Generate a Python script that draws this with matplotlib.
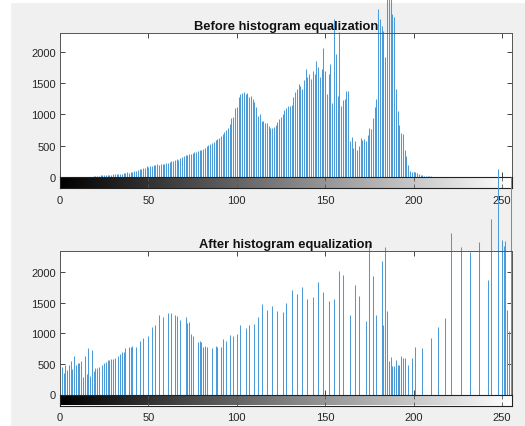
import numpy as np
import matplotlib.pyplot as plt
from matplotlib.patches import Rectangle

plt.rcParams['font.family'] = ['Liberation Sans', 'DejaVu Sans']

# histogram of the original image, one count per grey level 0..255
before_counts = [
    0, 0, 0, 0, 0, 0, 0, 0, 0, 0, 0, 0, 0, 0, 0, 0,
    0, 0, 5, 8, 20, 22, 18, 25, 28, 25, 32, 30, 38, 35, 42, 40,
    48, 45, 55, 52, 62, 60, 72, 68, 85, 80, 95, 92, 110, 120, 130, 150,
    145, 170, 165, 180, 175, 190, 185, 200, 195, 205, 210, 200, 225, 220, 240, 250,
    260, 270, 280, 275, 300, 320, 340, 350, 345, 365, 375, 385, 395, 405, 415, 425,
    435, 455, 470, 490, 505, 525, 545, 565, 585, 610, 630, 660, 690, 720, 750, 780,
    850, 935, 965, 1100, 1125, 1280, 1330, 1340, 1350, 1330, 1340, 1285, 1300, 1250, 1200, 1125,
    980, 1000, 890, 900, 870, 860, 810, 790, 780, 800, 825, 880, 925, 965, 1000, 1070,
    1100, 1140, 1130, 1150, 1280, 1350, 1410, 1490, 1460, 1410, 1550, 1730, 1600, 1650, 1560, 1700,
    1640, 1860, 1750, 1600, 1720, 2060, 1700, 1330, 1650, 1810, 1175, 2520, 1970, 1300, 2310, 1140,
    1225, 1250, 1370, 1380, 570, 635, 460, 570, 430, 490, 620, 590, 600, 570, 670, 780,
    760, 935, 1125, 1250, 2680, 2520, 2410, 2330, 1920, 2900, 3000, 2950, 2600, 2550, 1410, 1050,
    825, 700, 690, 430, 330, 190, 95, 80, 80, 75, 60, 48, 30, 25, 20, 15,
    12, 10, 8, 5, 0, 0, 0, 0, 0, 0, 0, 0, 0, 0, 0, 0,
    0, 0, 0, 0, 0, 0, 0, 0, 0, 0, 0, 0, 0, 0, 0, 0,
    0, 0, 0, 0, 0, 0, 0, 0, 0, 0, 0, 0, 0, 0, 0, 0,
]

# histogram after equalization: only the occupied grey levels
after_levels = [
    1, 2, 3, 4, 5, 6, 7, 8, 9, 10, 11, 12, 13, 14, 15, 16, 17, 18, 19, 20,
    21, 22, 24, 25, 26, 27, 28, 29, 30, 31, 33, 34, 35, 36, 37, 39, 40, 41, 43, 45,
    47, 50, 52, 54, 56, 58, 61, 63, 65, 66, 68, 71, 72, 73, 74, 75, 78, 79, 80, 81,
    82, 83, 86, 88, 89, 91, 92, 94, 96, 98, 100, 102, 105, 107, 110, 112, 114, 117, 120, 123,
    126, 128, 131, 134, 137, 140, 143, 146, 149, 152, 155, 158, 160, 164, 167, 169, 173, 175, 177, 179,
    182, 183, 184, 185, 186, 187, 188, 189, 190, 191, 192, 193, 194, 195, 197, 199, 201, 205, 210, 214,
    218, 221, 227, 232, 237, 242, 244, 248, 250, 251, 252, 253, 254, 255,
]
after_counts = [
    450, 355, 480, 400, 480, 550, 420, 630, 480, 515, 515, 550, 290, 630, 340, 760, 310, 725, 390, 435,
    435, 450, 480, 510, 540, 565, 565, 575, 580, 605, 630, 660, 690, 700, 760, 775, 775, 790, 775, 870,
    920, 950, 1110, 1145, 1310, 1270, 1340, 1340, 1310, 1290, 1225, 1265, 1170, 1180, 985, 960, 865, 880, 860, 780,
    800, 770, 755, 800, 780, 780, 915, 870, 970, 950, 985, 1135, 1090, 1145, 1160, 1265, 1485, 1385, 1450, 1360,
    1345, 1505, 1710, 1645, 1760, 1565, 1590, 1845, 1680, 1530, 1565, 2030, 1950, 1305, 1790, 1610, 1200, 2470, 1935, 1295,
    2180, 1130, 2420, 1360, 555, 620, 460, 460, 565, 480, 480, 625, 600, 590, 490, 590, 770, 755, 930, 1100,
    1250, 2650, 2420, 2330, 2500, 1880, 2870, 3700, 2530, 2435, 2515, 1385, 1035, 3560,
]

x_ticks = [0, 50, 100, 150, 200, 250]
y_ticks = [0, 500, 1000, 1500, 2000]

W, H = 525, 427
fig = plt.figure(figsize=(W / 100, H / 100), dpi=100, facecolor='#f0f0f0')
# white screenshot border on the left and top
fig.add_artist(Rectangle((0, 0), 10 / W, 1, transform=fig.transFigure,
                         color='white', zorder=-1))
fig.add_artist(Rectangle((0, 1 - 3 / H), 1, 3 / H, transform=fig.transFigure,
                         color='white', zorder=-1))

gradient = np.linspace(0, 1, 256)[np.newaxis, :]
XMAX = 255.7
dark = '#262626'


def draw_hist(top_px, bot_px, levels, counts, ymax, title):
    left, right = 60, 512
    ax = fig.add_axes([left / W, 1 - bot_px / H, (right - left) / W, (bot_px - top_px) / H])
    ax.vlines(levels, 0, counts, color='#4c9ad8', lw=0.75, clip_on=False, snap=True)
    ax.set_xlim(0, XMAX)
    ax.set_ylim(0, ymax)
    ax.set_xticks(x_ticks)
    ax.set_xticklabels([])
    ax.set_yticks(y_ticks)
    ax.tick_params(direction='in', top=True, right=True, length=3.5, width=0.6,
                   colors=dark, labelsize=8, pad=3)
    for s in ax.spines.values():
        s.set_color('#555555')
        s.set_linewidth(0.7)
    ax.set_title(title, fontsize=9.3, fontweight='bold', color='#111111', pad=3)

    # grey-level bar under the histogram
    cb = fig.add_axes([left / W, 1 - (bot_px + 11) / H, (right - left) / W, 11 / H])
    cb.imshow(gradient, cmap='gray', aspect='auto', extent=(0, XMAX, 0, 1))
    cb.set_xlim(0, XMAX)
    cb.set_yticks([])
    cb.set_xticks(x_ticks)
    cb.tick_params(direction='in', top=True, length=3, width=0.6,
                   colors='#555555', labelcolor=dark, labelsize=8, pad=5)
    for s in cb.spines.values():
        s.set_color('#222222')
        s.set_linewidth(0.8)
    return ax


draw_hist(34, 178, range(256), before_counts, 2300, 'Before histogram equalization')
draw_hist(252, 395.5, after_levels, after_counts, 2350, 'After histogram equalization')

fig.savefig('out.png', dpi=100, facecolor=fig.get_facecolor())
